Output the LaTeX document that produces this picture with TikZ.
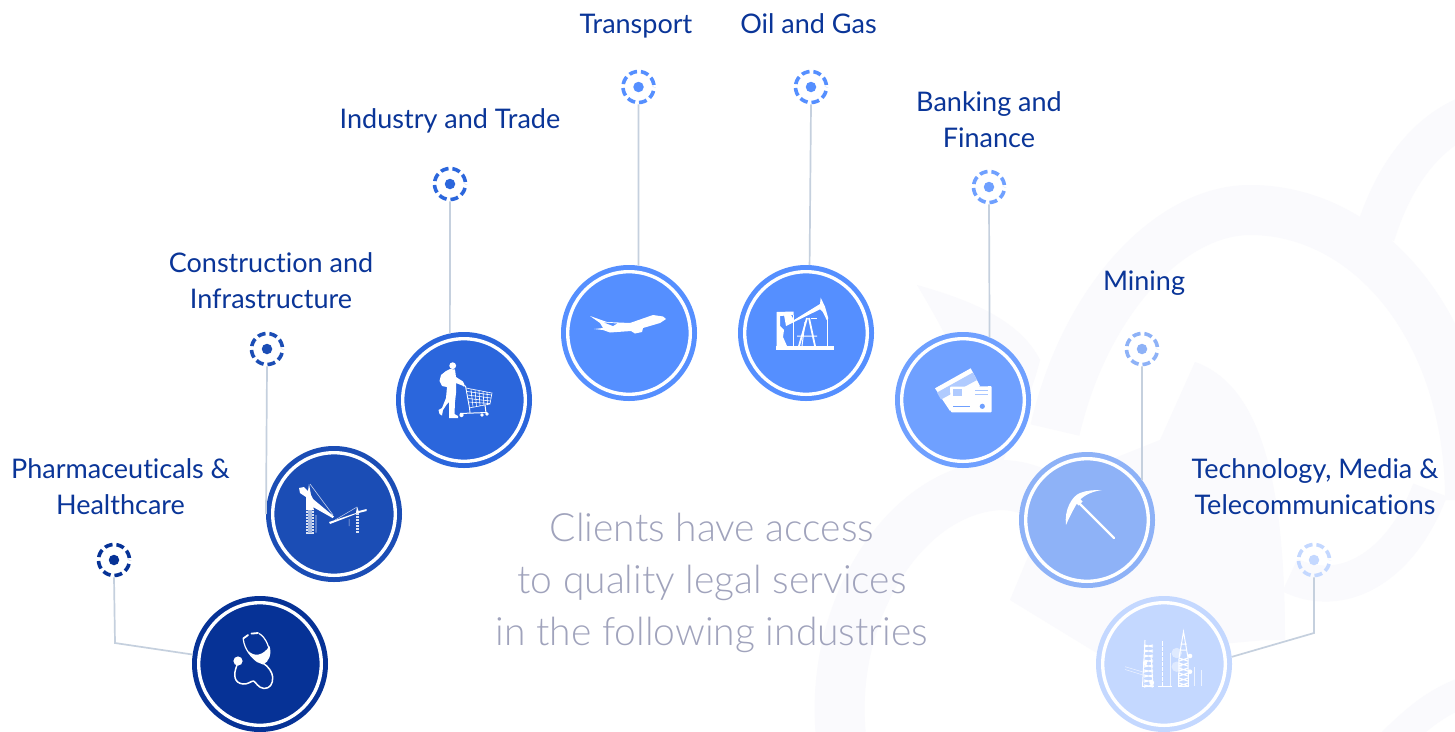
\documentclass[tikz,border=0pt]{standalone}
\usepackage{fontspec}
\setmainfont{Lato}[Ligatures=NoCommon]
\newfontfamily\lightfont{Lato Light}[Ligatures=NoCommon]
\definecolor{ink}{HTML}{0A3598}
\definecolor{lead}{HTML}{C5D0DE}
\definecolor{soft}{HTML}{A0A3BC}
\definecolor{mist}{HTML}{FAFAFD}
\definecolor{colA}{HTML}{063296}
\definecolor{colB}{HTML}{1B4DB5}
\definecolor{colC}{HTML}{2B66DC}
\definecolor{colD}{HTML}{558FFF}
\definecolor{colE}{HTML}{558FFF}
\definecolor{colF}{HTML}{6FA0FF}
\definecolor{colG}{HTML}{8EB2F7}
\definecolor{colH}{HTML}{C4D8FF}
\tikzset{
  hub/.style={circle,fill=#1,minimum size=136pt,inner sep=0pt,outer sep=0pt},
  pin/.style={circle,draw=#1,line width=3.6pt,minimum size=31pt,inner sep=0pt,
    dash pattern=on 8pt off 3.9pt,dash phase=9.9pt},
  pindot/.style={circle,fill=#1,minimum size=10.5pt,inner sep=0pt},
  tag/.style={text=ink,font=\fontsize{27}{36}\selectfont,align=center,inner sep=0pt},
  lead/.style={draw=lead,line width=1.7pt},
  mistband/.style={draw=mist,line join=round},
}
\begin{document}
\begin{tikzpicture}[x=1pt,y=-1pt]
\useasboundingbox (0,0) rectangle (1455,731);
\fill[white] (0,0) rectangle (1455,731);
% watermark
\draw[mistband,line width=50pt] (1055,430) .. controls (1085,300) and (1170,210) .. (1250,210) .. controls (1370,210) and (1470,330) .. (1470,500);
\draw[mistband,line width=40pt] (1375,235) .. controls (1395,170) and (1430,130) .. (1470,115);
\draw[mistband,line width=50pt] (842,745) .. controls (825,620) and (900,490) .. (1000,485) .. controls (1060,485) and (1090,540) .. (1095,600);
\fill[mist] (917,285) .. controls (970,300) and (1020,320) .. (1040,360) .. controls (1030,400) and (1010,440) .. (1000,470) .. controls (980,400) and (950,340) .. (917,285);
\fill[mist] (1195,362) .. controls (1260,385) and (1285,480) .. (1285,640) -- (1265,640) -- (1100,655) -- (1010,600) -- (1060,480) -- (1160,440) -- cycle;
\draw[mistband,line width=36pt] (1290,575) .. controls (1340,600) and (1400,570) .. (1430,490);
\draw[mistband,line width=30pt] (1390,745) .. controls (1420,715) and (1440,700) .. (1470,690);
% hubs
\foreach \n/\x/\y in {A/260/664,B/334/514,C/464/400,D/629/333,E/806/333,F/963/400,G/1087/520,H/1164/664}{
  \node[hub=col\n] (hub\n) at (\x,\y) {};
}
% pins
\foreach \n/\x/\y in {A/114/560,B/267/349,C/450/184,D/638.5/87,E/811/87,F/989/187,G/1142/349,H/1314/560}{
  \node[pin=col\n] (pin\n) at (\x,\y) {};
  \node[pindot=col\n] (dot\n) at (\x,\y) {};
}
% connectors
\coordinate (elbowA) at (115,643);
\coordinate (elbowH) at (1314,633);
\draw[lead] (pinA.south) -- (elbowA) -- (hubA.172);
\draw[lead] (pinB.south) -- (hubB.west);
\draw[lead] (pinC.south) -- (hubC.102);
\draw[lead] (pinD.south) -- (hubD.82);
\draw[lead] (pinE.south) -- (hubE.87);
\draw[lead] (pinF.south) -- (hubF.67);
\draw[lead] (pinG.south) -- (hubG.36);
\draw[lead] (pinH.south) -- (elbowH) -- (hubH.6);
% white rings
\foreach \x/\y in {260/664,334/514,464/400,629/333,806/333,963/400,1087/520,1164/664}{
  \draw[white,line width=3.4pt] (\x,\y) circle[radius=61.3pt];
}
% labels
\node[tag] (tA) at (120.5,487) {Pharmaceuticals \&\\Healthcare};
\node[tag] (tB) at (271,281) {Construction and\\Infrastructure};
\node[tag] (tC) at (450,121) {Industry and Trade};
\node[tag] (tD) at (636,26) {Transport};
\node[tag] (tE) at (808.5,24) {Oil and Gas};
\node[tag] (tF) at (989,120) {Banking and\\Finance};
\node[tag] (tG) at (1144,283) {Mining};
\node[tag] (tH) at (1315,487) {Technology, Media \&\\Telecommunications};
\node[text=soft,font=\lightfont\fontsize{39}{52}\selectfont,align=center,inner sep=0pt] (title) at (712,583) {Clients have access\\to quality legal services\\in the following industries};
% stethoscope
\fill[white] (238,661) circle[radius=4.6pt];
\draw[white,line width=1.5pt,line join=round] (237,665) .. controls (233,675) and (234,683) .. (243,684) .. controls (248,684.5) and (251,681) .. (253.5,681) .. controls (256,682) and (258,688) .. (264,688.5) .. controls (270,688.5) and (273,684) .. (272.7,677) .. controls (272,672) and (269,667) .. (263,663);
\draw[white,line width=1.2pt] (243.3,639) .. controls (244,649) and (252,658) .. (258,662);
\draw[white,line width=1.2pt] (259,633.5) .. controls (266,637) and (271,650) .. (269,656);
\draw[white,line width=1.8pt,line cap=round] (243.3,638.5) -- (248,635) (251.5,633.6) -- (258,633);
\fill[white] (248.5,651) .. controls (254,657) and (263,656) .. (269.5,646) .. controls (272,654) and (269,662) .. (263,664.5) .. controls (257,663) and (252,658) .. (248.5,651) -- cycle;
% cranes
\fill[white] (299,488) -- (304,487) -- (308,491) -- (309,484) -- (311,495) -- (313,499) -- (334,516.5) -- (332.5,518) -- (313,507) -- (314,510) -- (306,510) -- (306,497) -- (300,493) -- cycle;
\foreach \r in {511,514,...,532}{ \fill[white!85!colB] (306,\r) rectangle (313.5,\r+2); }
\fill[white!60!colB] (308,510) rectangle (311.5,533);
\draw[white!75!colB,line width=.6pt] (310,484) -- (333,515) (316,515) -- (316,532.7);
\fill[white] (329,522) -- (356,513) -- (357,506.5) -- (358.5,511) -- (366.7,509) -- (366.7,511) -- (358.5,513) -- (330,524) -- cycle;
\foreach \r in {513,516,...,531}{ \fill[white!85!colB] (355.5,\r) rectangle (358.5,\r+2); }
\draw[white!75!colB,line width=.5pt] (335,520) -- (357,507) (349,519) -- (349,526);
% shopping person
\fill[white] (452.7,365.7) circle[radius=3.4pt];
\fill[white] (450,369) -- (455,369.5) -- (456,377) -- (463,381.5) -- (465,386) -- (463.5,386) -- (456,383) -- (456,393) -- (455,402) -- (454.5,414) -- (458,416) -- (458,418) -- (449,418) -- (449,402) -- (447,404) -- (443,410) -- (442,415.5) -- (439.5,414) -- (438.5,410) -- (442,408) -- (446,398) -- (447,387) -- (442,386) -- (439.5,381) -- (441,375) -- (446,371) -- cycle;
\draw[white,line width=.9pt] (463,386) -- (465.5,386) -- (469.5,408) -- (470,413);
\draw[white,line width=.6pt] (466,388) -- (492,393) -- (490,404) -- (469,408) (471,389.5) -- (473,407) (475,390) -- (476.5,406.5) (479,391) -- (480,406) (483,391.5) -- (484,405.5) (487,392) -- (487.5,405) (467,391.5) -- (491.5,395) (467.5,395) -- (491,398) (468,398.5) -- (490.5,401) (468.5,402) -- (490,403.5);
\draw[white,line width=1pt] (460,413.5) -- (487,412.5) (485,405) -- (486,413);
\fill[white] (461.5,415) circle[radius=2.1pt] (482,415) circle[radius=1.9pt] (487,414) circle[radius=1.9pt];
% plane
\fill[white] (590,316) -- (607,322) -- (630,323) -- (653,315) -- (663,316.5) -- (666,319) -- (660,323) -- (643,328) -- (642,332) -- (635,333.5) -- (631,331) -- (610,332.5) -- (603,330) -- (594,329) -- (603,328) -- (600,323) -- cycle;
\fill[colD] (604,322.5) -- (613,326) -- (617,323.5) -- cycle;
% pumpjack
\fill[white] (776,346) rectangle (834,350);
\fill[white] (776.7,312) -- (793.5,311.5) -- (793.5,315) -- (780,316) -- (780,326) -- (784,330) -- (783,337) -- (787,346) -- (776.7,346) -- cycle;
\fill[white] (784,315) -- (791,315) -- (794,320) -- (820,304) -- (820.7,297.7) -- (825,306.7) -- (828.3,318.3) -- (826.7,320) -- (822.7,311.7) -- (820,309.3) -- (786,326) -- cycle;
\draw[white,line width=1.8pt] (807,318) -- (799,346) (809,318) -- (815,346);
\draw[white,line width=1pt] (805,322) -- (802,346) (797,336) -- (817,336);
\draw[white,line width=.8pt] (793,315) -- (793,346) (827,318) -- (827,346) (811,318) -- (817,318);
% credit cards
\fill[white] (935,388.3) -- (970.7,368.3) -- (980,386) -- (950,411) -- cycle;
\fill[colF!55!white] (937,392.5) -- (973,372.5) -- (977,380) -- (941,399.5) -- cycle;
\fill[white,rounded corners=.8pt] (950,386.7) -- (991.7,386.2) -- (991.7,412.3) -- (951,412.3) -- cycle;
\fill[colF!55!white] (953,389) rectangle (962,396);
\fill[colF] (953,405.7) rectangle (970,407.2);
\fill[colF] (982.3,406.3) circle[radius=2.6pt];
\draw[colF!60!white,line width=.5pt] (975,390) -- (988,390) (975,394) -- (988,394);
% pickaxe
\draw[white,line width=2.2pt,line cap=round] (1076,500) -- (1114,538);
\fill[white] (1072.5,499.5) -- (1076.5,495.5) -- (1082.7,501.5) -- (1078.5,505.5) -- cycle;
\fill[white] (1066,525) .. controls (1064,510) and (1072,496) .. (1080,493) .. controls (1088,490) and (1095,490) .. (1102,490) .. controls (1088,492) and (1080,498) .. (1076,505) .. controls (1072,512) and (1069,518) .. (1066,525) -- cycle;
% towers
\fill[white!45!colH] (1176.7,653) circle[radius=5.2pt] (1176.7,666.7) circle[radius=5.2pt];
\draw[white!70!colH,line width=.5pt] (1125,666.7) -- (1143,672) (1125,669.5) -- (1143,675);
\foreach \r in {645,650,...,685}{
  \draw[white,line width=1.1pt] (1144,\r) -- (1153,\r+2) (1153,\r) -- (1144,\r+2);
}
\draw[white,line width=1pt] (1142.5,686) -- (1145,640) (1153,686) -- (1151,655);
\fill[white] (1162,641) rectangle (1163.4,686);
\foreach \r in {646,651,...,681}{ \fill[colH] (1162,\r) rectangle (1163.4,\r+1); }
\foreach \r in {658,663,...,683}{
  \draw[white,line width=1.1pt] (1179,\r) -- (1188,\r+3) (1188,\r) -- (1179,\r+3);
}
\draw[white,line width=1pt] (1178.5,686) -- (1179,658) -- (1183.5,631.7) -- (1188,658) -- (1188.5,686) (1180,650) -- (1187,650) (1180.5,644) -- (1186.5,644);
\draw[white!70!colH,line width=.6pt] (1170,653) -- (1170,686) (1201.7,670) -- (1201.7,686) (1194,667) -- (1194,686);
\draw[white,line width=.8pt] (1141.7,686) -- (1153.5,686) (1178,686) -- (1189,686) (1158,686) -- (1172,686);
\fill[white] (1190,656) circle[radius=2.3pt] (1190,671.7) circle[radius=2.3pt] (1145,663) circle[radius=2.2pt] (1151.7,682.7) circle[radius=2.4pt];
\end{tikzpicture}
\end{document}
